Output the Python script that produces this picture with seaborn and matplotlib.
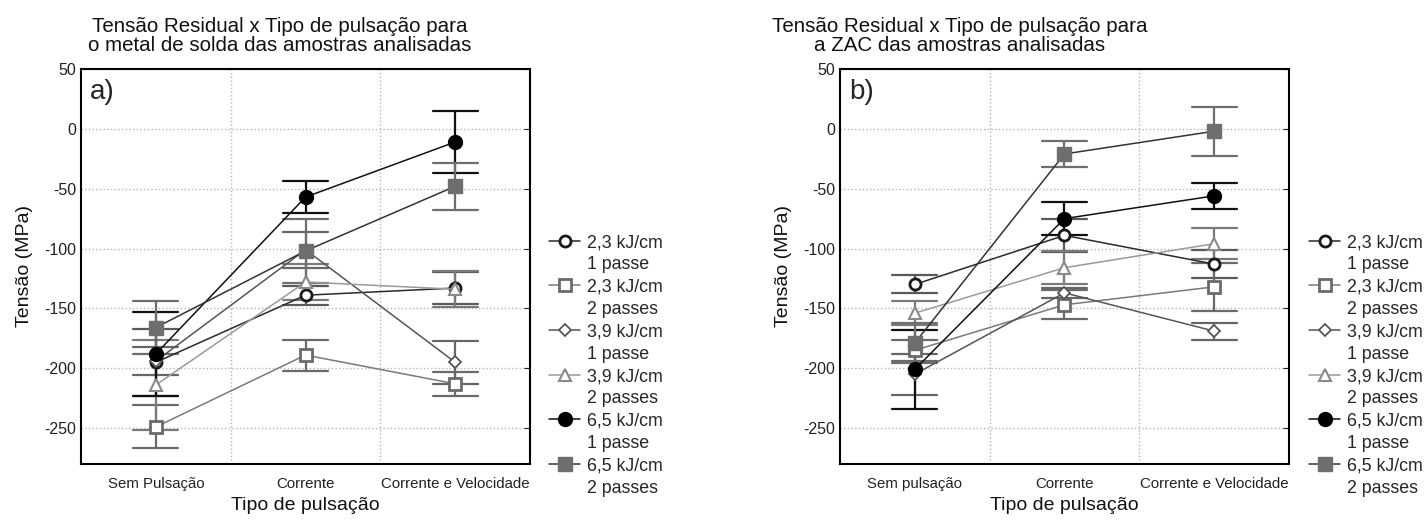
import numpy as np
import pandas as pd
import matplotlib
matplotlib.use("Agg")
import matplotlib.pyplot as plt
from matplotlib.lines import Line2D
import seaborn as sns

# categories
cats_a = ["Sem Pulsação", "Corrente", "Corrente e Velocidade"]
cats_b = ["Sem pulsação", "Corrente", "Corrente e Velocidade"]

series_names = ["2,3 kJ/cm\n1 passe", "2,3 kJ/cm\n2 passes", "3,9 kJ/cm\n1 passe",
                "3,9 kJ/cm\n2 passes", "6,5 kJ/cm\n1 passe", "6,5 kJ/cm\n2 passes"]

# a) metal de solda: mean and error half-width per series
a_23_1p = [-195, -139, -133]
a_23_1p_err = [28, 8, 13]
a_23_2p = [-249, -189, -213]
a_23_2p_err = [18, 13, 10]
a_39_1p = [-194, -101, -195]
a_39_1p_err = [12, 15, 18]
a_39_2p = [-214, -128, -134]
a_39_2p_err = [38, 15, 15]
a_65_1p = [-188, -57, -11]
a_65_1p_err = [35, 13.5, 26]
a_65_2p = [-166, -102, -48]
a_65_2p_err = [22, 27, 19.5]

# b) ZAC
b_23_1p = [-130, -89, -113]
b_23_1p_err = [7.5, 13.5, 12]
b_23_2p = [-185, -147, -132]
b_23_2p_err = [9, 12, 20]
b_39_1p = [-205, -137, -169]
b_39_1p_err = [17, 4, 7]
b_39_2p = [-154, -116, -96]
b_39_2p_err = [10, 14, 13]
b_65_1p = [-201, -75, -56]
b_65_1p_err = [33, 14, 11]
b_65_2p = [-179, -21, -2]
b_65_2p_err = [17, 11, 20.5]

data_a = [(a_23_1p, a_23_1p_err), (a_23_2p, a_23_2p_err), (a_39_1p, a_39_1p_err),
          (a_39_2p, a_39_2p_err), (a_65_1p, a_65_1p_err), (a_65_2p, a_65_2p_err)]
data_b = [(b_23_1p, b_23_1p_err), (b_23_2p, b_23_2p_err), (b_39_1p, b_39_1p_err),
          (b_39_2p, b_39_2p_err), (b_65_1p, b_65_1p_err), (b_65_2p, b_65_2p_err)]

# styles per series: marker, edge, face, line colour, error colour, size, edge width
styles = [
    dict(marker="o", mec="#1a1a1a", mfc="white", lc="#2a2a2a", ec="#5a5a5a", ms=8, mew=2.0),
    dict(marker="s", mec="#6a6a6a", mfc="white", lc="#7a7a7a", ec="#6a6a6a", ms=8, mew=2.0),
    dict(marker="D", mec="#555555", mfc="white", lc="#555555", ec="#666666", ms=6, mew=1.3),
    dict(marker="^", mec="#8a8a8a", mfc="white", lc="#9a9a9a", ec="#7a7a7a", ms=8.5, mew=1.5),
    dict(marker="o", mec="black", mfc="black", lc="#111111", ec="#111111", ms=10, mew=1.0),
    dict(marker="s", mec="#6e6e6e", mfc="#6e6e6e", lc="#333333", ec="#6e6e6e", ms=9.5, mew=1.0),
]

sns.set_style("white")
plt.rcParams["font.family"] = ["Liberation Sans", "DejaVu Sans"]
plt.rcParams["axes.unicode_minus"] = False


def long_frame(cats, vals, errs):
    # two observations per point so that min/max give the error bar
    rows = []
    for c, v, e in zip(cats, vals, errs):
        rows.append({"tipo": c, "tensao": v - e})
        rows.append({"tipo": c, "tensao": v + e})
    return pd.DataFrame(rows)


def draw_panel(ax, cats, data, letter):
    for (vals, errs), st in zip(data, styles):
        df = long_frame(cats, vals, errs)
        sns.pointplot(data=df, x="tipo", y="tensao", order=cats, ax=ax,
                      estimator="mean", errorbar=lambda v: (v.min(), v.max()),
                      capsize=0.3, color=st["lc"], markers=st["marker"],
                      linestyles="-", linewidth=1.1,
                      markersize=st["ms"], markerfacecolor=st["mfc"],
                      markeredgecolor=st["mec"], markeredgewidth=st["mew"],
                      err_kws={"color": st["ec"], "linewidth": 1.6, "zorder": 2},
                      zorder=3)
    ax.set_xlim(-0.5, 2.5)
    ax.set_ylim(-280, 50)
    ax.set_yticks([50, 0, -50, -100, -150, -200, -250])
    ax.set_xticks([0.5, 1.5], minor=True)
    ax.grid(True, which="major", axis="y", linestyle=":", color="#b5b5b5", linewidth=1.0)
    ax.grid(True, which="minor", axis="x", linestyle=":", color="#b5b5b5", linewidth=1.0)
    ax.grid(False, which="major", axis="x")
    ax.set_axisbelow(True)
    for sp in ax.spines.values():
        sp.set_visible(True)
        sp.set_color("black")
        sp.set_linewidth(1.5)
    ax.tick_params(axis="x", which="major", length=0, labelsize=10.8, pad=9, colors="#222222")
    ax.tick_params(axis="x", which="minor", direction="in", length=4, top=False)
    ax.tick_params(axis="y", which="major", direction="in", length=4, right=True,
                   labelsize=11.5, colors="#222222")
    ax.set_xlabel("Tipo de pulsação", fontsize=14, labelpad=5, color="#111111")
    ax.set_ylabel("Tensão (MPa)", fontsize=14, labelpad=8, color="#111111")
    ax.text(0.02, 0.975, letter, transform=ax.transAxes, fontsize=20, va="top", ha="left")


fig = plt.figure(figsize=(14.27, 5.21), dpi=100)
ax_a = fig.add_axes([0.0568, 0.1094, 0.3146, 0.7582])
ax_b = fig.add_axes([0.5886, 0.1094, 0.3147, 0.7582])

draw_panel(ax_a, cats_a, data_a, "a)")
draw_panel(ax_b, cats_b, data_b, "b)")

fig.text(280 / 1427, 1 - 36 / 521,
         "Tensão Residual x Tipo de pulsação para\no metal de solda das amostras analisadas",
         ha="center", va="center", fontsize=14.8, linespacing=1.05, color="#111111")
fig.text(960 / 1427, 1 - 36 / 521,
         "Tensão Residual x Tipo de pulsação para\na ZAC das amostras analisadas",
         ha="center", va="center", fontsize=14.8, linespacing=1.05, color="#111111")

# legend: one entry for the first line with the marker, a blank entry for the second line
handles, labels = [], []
blank = Line2D([], [], linestyle="none", marker=None)
for name, st in zip(series_names, styles):
    first, second = name.split("\n")
    handles.append(Line2D([], [], color=st["lc"], linewidth=1.1, marker=st["marker"],
                          markersize=st["ms"], markerfacecolor=st["mfc"],
                          markeredgecolor=st["mec"], markeredgewidth=st["mew"]))
    labels.append(first)
    handles.append(blank)
    labels.append(second)

for x0 in (549 / 1427, 1309 / 1427):
    fig.legend(handles, labels, loc="upper left", bbox_to_anchor=(x0, 1 - 234 / 521),
               frameon=False, fontsize=12.8, handlelength=1.75, handletextpad=0.4,
               labelspacing=0.3, borderpad=0, borderaxespad=0)

fig.savefig("out.png", dpi=100)
